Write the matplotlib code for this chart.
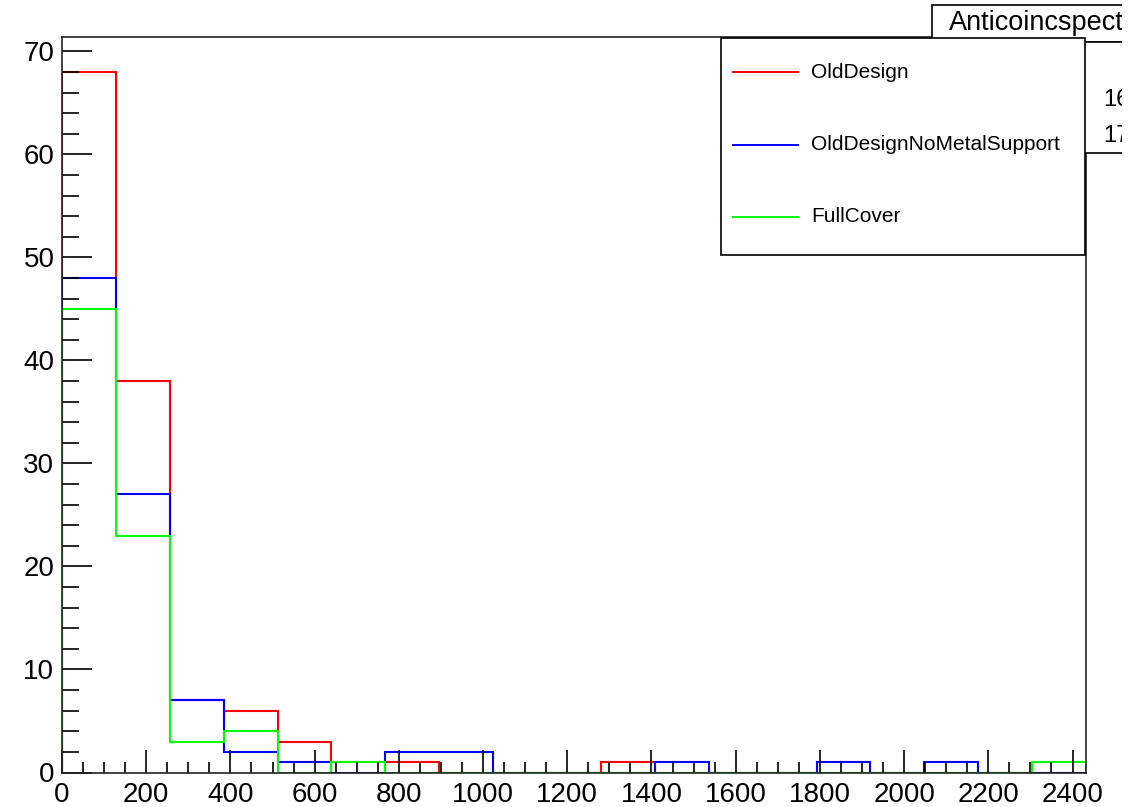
import numpy as np
import matplotlib
matplotlib.use('Agg')
import matplotlib.pyplot as plt
from matplotlib.ticker import MultipleLocator
from matplotlib.patches import Rectangle
from matplotlib.lines import Line2D

plt.rcParams['font.family'] = ['Liberation Sans', 'DejaVu Sans']

# histogram binning: 19 bins of 128 from 0 to 2432
bin_width = 128
n_bins = 19
edges = np.arange(n_bins + 1) * bin_width

old_design = [68, 38, 7, 6, 3, 1, 1, 0, 0, 0, 1, 0, 0, 0, 0, 0, 0, 0, 0]
no_metal = [48, 27, 7, 2, 1, 0, 2, 2, 0, 0, 0, 1, 0, 0, 1, 0, 1, 0, 0]
full_cover = [45, 23, 3, 4, 0, 1, 0, 0, 0, 0, 0, 0, 0, 0, 0, 0, 0, 0, 1]

labels = ['OldDesign', 'OldDesignNoMetalSupport', 'FullCover']
colors = ['#ff0000', '#0000ff', '#00ff00']
stats_title = 'Anticoincspectrum'

W, H = 1143, 807
fig = plt.figure(figsize=(W / 100, H / 100), dpi=100, facecolor='white')

def fx(px):
    return px / W

def fy(py):
    return 1 - py / H

ax = fig.add_axes([fx(62), fy(772.5), fx(1086) - fx(62), fy(37) - fy(772.5)])

for vals, col in zip([old_design, no_metal, full_cover], colors):
    ax.stairs(vals, edges, color=col, lw=1.5, baseline=0)

ax.set_xlim(0, edges[-1])
ax.set_ylim(0, max(old_design) * 1.05)

ax.xaxis.set_major_locator(MultipleLocator(200))
ax.xaxis.set_minor_locator(MultipleLocator(50))
ax.yaxis.set_major_locator(MultipleLocator(10))
ax.yaxis.set_minor_locator(MultipleLocator(2))

ax.tick_params(axis='both', which='both', direction='in', top=False, right=False,
               width=1.2, colors='black', labelsize=20)
ax.tick_params(axis='x', which='major', length=16.5, pad=7)
ax.tick_params(axis='x', which='minor', length=8)
ax.tick_params(axis='y', which='major', length=21.5, pad=5.5)
ax.tick_params(axis='y', which='minor', length=12)
for sp in ax.spines.values():
    sp.set_color('#222222')
    sp.set_linewidth(1.2)

# stats of the first histogram, from bin centres
centres = (edges[:-1] + edges[1:]) / 2
w = np.array(old_design, dtype=float)
mean = np.sum(centres * w) / w.sum()
std = np.sqrt(np.sum(w * (centres - mean) ** 2) / w.sum())

fig.add_artist(Rectangle((fx(932), fy(42)), fx(1200) - fx(932), fy(5) - fy(42),
                         transform=fig.transFigure, facecolor='white',
                         edgecolor='black', lw=1.2, zorder=4))
fig.add_artist(Rectangle((fx(932), fy(153)), fx(1200) - fx(932), fy(42) - fy(153),
                         transform=fig.transFigure, facecolor='white',
                         edgecolor='black', lw=1.2, zorder=4))
fig.text(fx(949), fy(23), stats_title, fontsize=19.5, va='center', ha='left', zorder=5)
fig.text(fx(1103), fy(100), f'{mean:.1f}', fontsize=17, va='center', ha='left', zorder=5)
fig.text(fx(1103), fy(136), f'{std:.1f}', fontsize=17, va='center', ha='left', zorder=5)

# legend box
fig.add_artist(Rectangle((fx(721), fy(255)), fx(1085) - fx(721), fy(38) - fy(255),
                         transform=fig.transFigure, facecolor='white',
                         edgecolor='black', lw=1.2, zorder=6))
for i, (lab, col) in enumerate(zip(labels, colors)):
    yy = fy(72 + i * 72.5)
    fig.add_artist(Line2D([fx(733), fx(798)], [yy, yy], color=col, lw=1.4,
                          transform=fig.transFigure, zorder=7))
    fig.text(fx(811), yy, lab, fontsize=15, va='center', ha='left', zorder=7)

# image is cut off on the right
fig.add_artist(Rectangle((fx(1122), 0), fx(W) - fx(1122), 1, transform=fig.transFigure,
                         facecolor='white', edgecolor='none', zorder=20))

fig.savefig('out.png', dpi=100, facecolor='white')
